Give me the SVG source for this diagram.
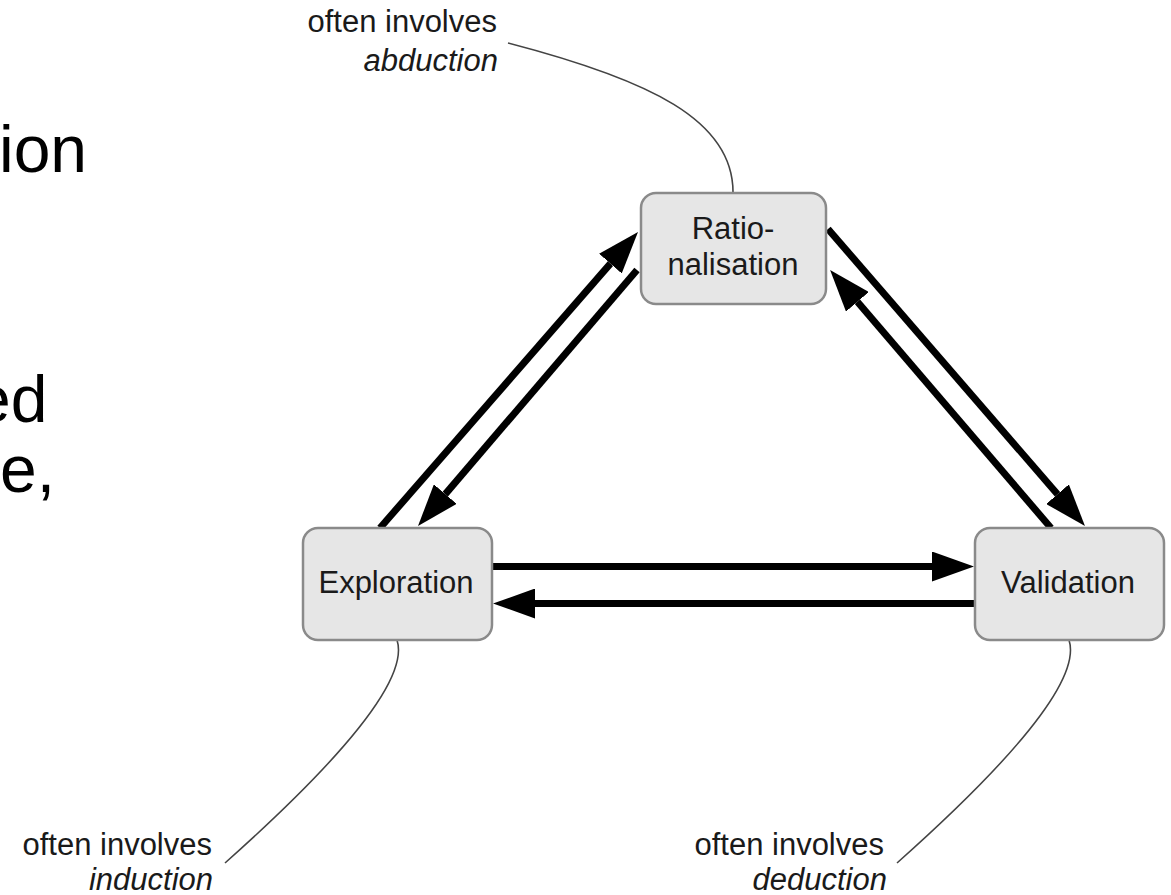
<svg xmlns="http://www.w3.org/2000/svg" width="1171" height="895" viewBox="0 0 1171 895">
<style>
.box{fill:#e6e6e6;stroke:#8a8a8a;stroke-width:2.5}
.lbl{font-family:"Liberation Sans",Arial,sans-serif;font-size:31px;fill:#1a1a1a;text-anchor:middle}
.note{font-family:"Liberation Sans",Arial,sans-serif;font-size:31px;fill:#1a1a1a;text-anchor:end}
.it{font-style:italic}
.big{font-family:"Liberation Sans",Arial,sans-serif;font-size:66px;fill:#000}
.arr{stroke:#000;stroke-width:7;fill:none;marker-end:url(#ah)}
.call{stroke:#444;stroke-width:1.6;fill:none}
</style>
<defs>
<marker id="ah" markerUnits="userSpaceOnUse" viewBox="0 0 42 30" markerWidth="42" markerHeight="30" refX="0" refY="15" orient="auto">
<path d="M0,0 L42,15 L0,30 z" fill="#000"/>
</marker>
</defs>
<rect width="1171" height="895" fill="#fff"/>
<g id="side-text">
<text class="big" x="-1" y="172">ion</text>
<text class="big" x="-26" y="422">ed</text>
<text class="big" x="0" y="492">e,</text>
</g>
<g id="connectors">
<line class="arr" x1="380" y1="528" x2="610.4" y2="263.6"/>
<line class="arr" x1="637" y1="270" x2="445.3" y2="494.1"/>
<line class="arr" x1="828" y1="229" x2="1057.5" y2="494.2"/>
<line class="arr" x1="1051" y1="528" x2="857.4" y2="301.8"/>
<line class="arr" x1="492" y1="566.5" x2="932" y2="566.5"/>
<line class="arr" x1="975" y1="603.5" x2="535" y2="603.5"/>
<path class="call" d="M508,43 C650,80 733,120 733,192"/>
<path class="call" d="M397,640 C410,680 335,765 225,863"/>
<path class="call" d="M1069,640 C1082,680 1007,765 897,863"/>
</g>
<g id="node-rationalisation">
<rect class="box" x="641" y="193" width="185" height="111" rx="15"/>
<text class="lbl" x="733" y="239">Ratio-</text>
<text class="lbl" x="733" y="275">nalisation</text>
</g>
<g id="node-exploration">
<rect class="box" x="303" y="528" width="189" height="112" rx="15"/>
<text class="lbl" x="396" y="593">Exploration</text>
</g>
<g id="node-validation">
<rect class="box" x="975" y="528" width="189" height="112" rx="15"/>
<text class="lbl" x="1068" y="593">Validation</text>
</g>
<g id="note-abduction">
<text class="note" x="497" y="32">often involves</text>
<text class="note it" x="498" y="71">abduction</text>
</g>
<g id="note-induction">
<text class="note" x="212" y="855">often involves</text>
<text class="note it" x="213" y="890">induction</text>
</g>
<g id="note-deduction">
<text class="note" x="884" y="855">often involves</text>
<text class="note it" x="887" y="890">deduction</text>
</g>
</svg>
